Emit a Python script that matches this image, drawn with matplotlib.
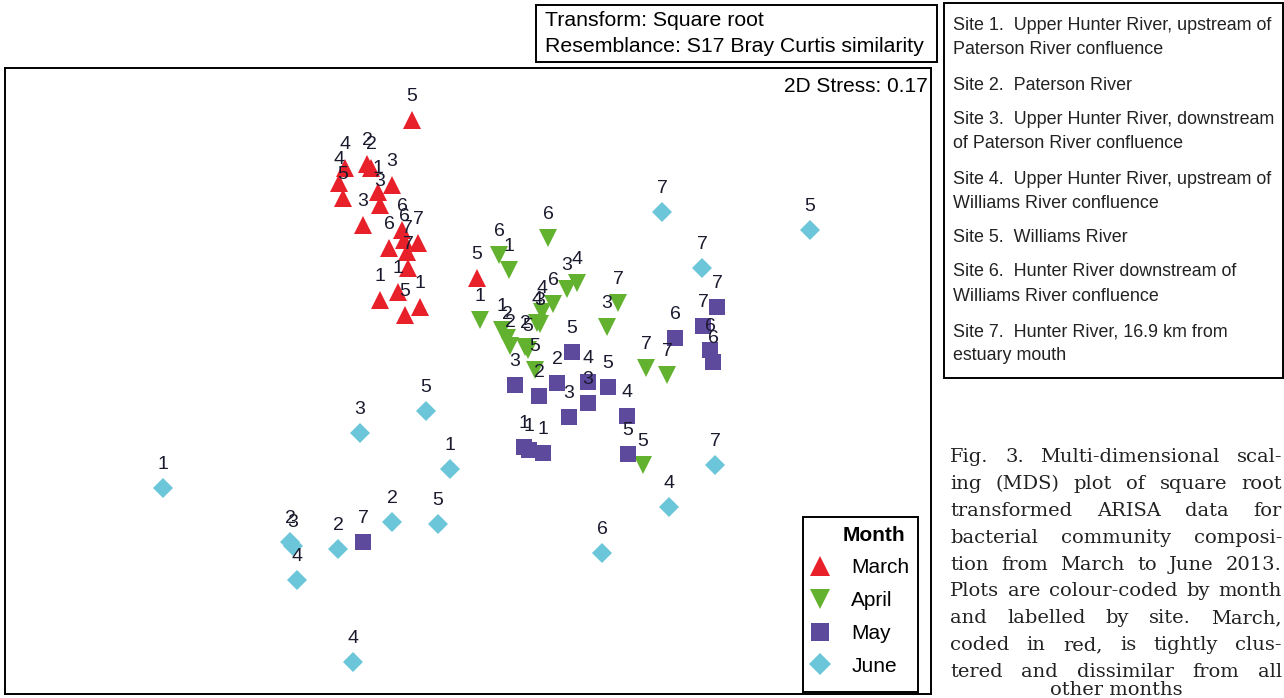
import matplotlib
matplotlib.use("Agg")
import matplotlib.pyplot as plt
from matplotlib.lines import Line2D
from matplotlib.patches import Rectangle

W, H = 1284, 698

# MDS coordinates (x, y) and site number for each sample, grouped by month
march_x = [-0.56, -1.01, -0.97, -1.23, -1.29, -1.25, -0.76, -0.90, -0.88, -1.05, -0.66,
           -0.64, -0.79, -0.50, -0.61, -0.60, -0.70, -0.88, -0.48, -0.63, 0.09]
march_y = [2.61, 2.17, 2.13, 2.13, 1.98, 1.83, 1.96, 1.89, 1.76, 1.56, 1.51,
           1.41, 1.33, 1.38, 1.29, 1.13, 0.89, 0.81, 0.74, 0.66, 1.03]
march_site = ["5", "2", "2", "4", "4", "5", "3", "1", "3", "3", "6",
              "6", "6", "7", "7", "7", "1", "1", "1", "5", "5"]

april_x = [0.80, 0.31, 0.41, 1.09, 0.99, 0.85, 0.74, 0.69, 0.72, 1.50, 1.39,
           0.12, 0.34, 0.39, 0.42, 0.57, 0.60, 0.67, 1.78, 1.99, 1.75]
april_y = [1.43, 1.26, 1.11, 0.98, 0.92, 0.77, 0.69, 0.58, 0.57, 0.78, 0.54,
           0.61, 0.51, 0.43, 0.35, 0.34, 0.31, 0.11, 0.13, 0.06, -0.84]
april_site = ["6", "6", "1", "4", "3", "6", "4", "4", "3", "7", "3",
              "1", "1", "2", "2", "2", "5", "5", "7", "7", "5"]

may_x = [1.04, 0.47, 0.71, 0.89, 1.20, 1.40, 1.20, 1.01, 1.59, 0.56, 0.61,
         0.75, 1.60, -1.05, 2.07, 2.49, 2.35, 2.42, 2.45]
may_y = [0.29, -0.04, -0.15, -0.02, -0.01, -0.06, -0.22, -0.36, -0.35, -0.66, -0.69,
         -0.72, -0.73, -1.61, 0.43, 0.74, 0.55, 0.31, 0.19]
may_site = ["5", "3", "2", "2", "4", "5", "3", "3", "4", "1", "1",
            "1", "5", "7", "6", "7", "7", "6", "6"]

june_x = [-3.05, -1.08, -0.42, -0.18, -0.76, -0.30, -1.30, -1.78, -1.75, -1.71, -1.15,
          2.47, 2.01, 1.34, 1.94, 3.42, 2.34]
june_y = [-1.07, -0.52, -0.30, -0.88, -1.41, -1.43, -1.68, -1.61, -1.65, -1.99, -2.81,
          -0.84, -1.26, -1.72, 1.69, 1.51, 1.13]
june_site = ["1", "3", "5", "1", "2", "5", "2", "2", "3", "4", "4",
             "7", "4", "6", "7", "5", "7"]

months = ["March", "April", "May", "June"]
colors = ["#e8202a", "#62b22f", "#5d4a9c", "#6cc6d9"]
markers = ["^", "v", "s", "D"]
sizes = [13, 13, 12, 10]

site_notes = [
    "Site 1.  Upper Hunter River, upstream of", "Paterson River confluence",
    "Site 2.  Paterson River",
    "Site 3.  Upper Hunter River, downstream", "of Paterson River confluence",
    "Site 4.  Upper Hunter River, upstream of", "Williams River confluence",
    "Site 5.  Williams River",
    "Site 6.  Hunter River downstream of", "Williams River confluence",
    "Site 7.  Hunter River, 16.9 km from", "estuary mouth",
]
site_note_y = [26, 49, 86, 120, 144, 180, 203, 238, 272, 297, 332, 356]

caption = [
    "Fig. 3. Multi-dimensional scal-",
    "ing (MDS) plot of square root",
    "transformed ARISA data for",
    "bacterial community composi-",
    "tion from March to June 2013.",
    "Plots are colour-coded by month",
    "and labelled by site. March,",
    "coded in red, is tightly clus-",
    "tered and dissimilar from all",
    "other months",
]

plt.rcParams["font.family"] = ["Liberation Sans", "DejaVu Sans"]

fig = plt.figure(figsize=(W / 100, H / 100), dpi=100)


def fx(px):
    return px / W


def fy(py):
    return 1 - py / H


def box(x0, y0, x1, y1):
    fig.patches.append(Rectangle((fx(x0), fy(y1)), (x1 - x0) / W, (y1 - y0) / H,
                                 transform=fig.transFigure, fill=False,
                                 edgecolor="black", linewidth=1.4, zorder=5))


ax = fig.add_axes([fx(5), fy(694), (931 - 5) / W, (694 - 68) / H])
ax.set_xlim(-4.63, 4.63)
ax.set_ylim(-3.13, 3.13)
ax.set_xticks([])
ax.set_yticks([])
for sp in ax.spines.values():
    sp.set_linewidth(1.4)

groups = [(march_x, march_y, march_site), (april_x, april_y, april_site),
          (may_x, may_y, may_site), (june_x, june_y, june_site)]

for (xs, ys, sites), c, m, ms in zip(groups, colors, markers, sizes):
    ax.plot(xs, ys, linestyle="none", marker=m, markersize=ms, color=c,
            markeredgewidth=0, zorder=2)
    for x, y, s in zip(xs, ys, sites):
        ax.annotate(s, (x, y), xytext=(0, 17), textcoords="offset points",
                    ha="center", va="center", fontsize=14, color="#1a1a2e",
                    zorder=3)

ax.text(0.9965, 0.97, "2D Stress: 0.17", transform=ax.transAxes, ha="right",
        va="center", fontsize=15)

# month legend, framed by hand so the box can be sized freely
handles = [Line2D([], [], linestyle="none", marker=m, markersize=ms + 1, color=c,
                  markeredgewidth=0)
           for c, m, ms in zip(colors, markers, sizes)]
leg = fig.legend(handles, months, title="Month", loc="upper left",
                 bbox_to_anchor=(fx(803), fy(517)), fontsize=15, frameon=False,
                 labelspacing=0.66, handletextpad=1.08, borderpad=0.41,
                 handlelength=0.82, borderaxespad=0.0)
leg.get_title().set_fontweight("bold")
leg.get_title().set_fontsize(15)
leg.get_title().set_position((14, 0))
box(803, 517, 918, 692)

# header box with the transform details
box(536, 5, 937, 62)
fig.text(fx(545), fy(20), "Transform: Square root", ha="left", va="center",
         fontsize=15.3)
fig.text(fx(545), fy(46), "Resemblance: S17 Bray Curtis similarity", ha="left",
         va="center", fontsize=15.3)

# site key
box(944, 3, 1283, 378)
for txt, py in zip(site_notes, site_note_y):
    fig.text(fx(953), fy(py), txt, ha="left", va="center", fontsize=12.9,
             color="#222222")

# justified caption
fig.canvas.draw()
renderer = fig.canvas.get_renderer()
left, right = 950, 1282
for i, line in enumerate(caption):
    py = 457 + i * 26.9
    if i == len(caption) - 1:
        py = 690
        fig.text(fx((left + right) / 2), fy(py), line, ha="center", va="center",
                 fontsize=14, family="DejaVu Serif", color="#222222")
        continue
    words = line.split()
    texts = [fig.text(0, fy(py), w, ha="left", va="center", fontsize=14,
                      family="DejaVu Serif", color="#222222") for w in words]
    widths = [t.get_window_extent(renderer).width for t in texts]
    gap = (right - left - sum(widths)) / (len(words) - 1)
    x = left
    for t, w in zip(texts, widths):
        t.set_x(fx(x))
        x += w + gap

fig.savefig("out.png", dpi=100)
